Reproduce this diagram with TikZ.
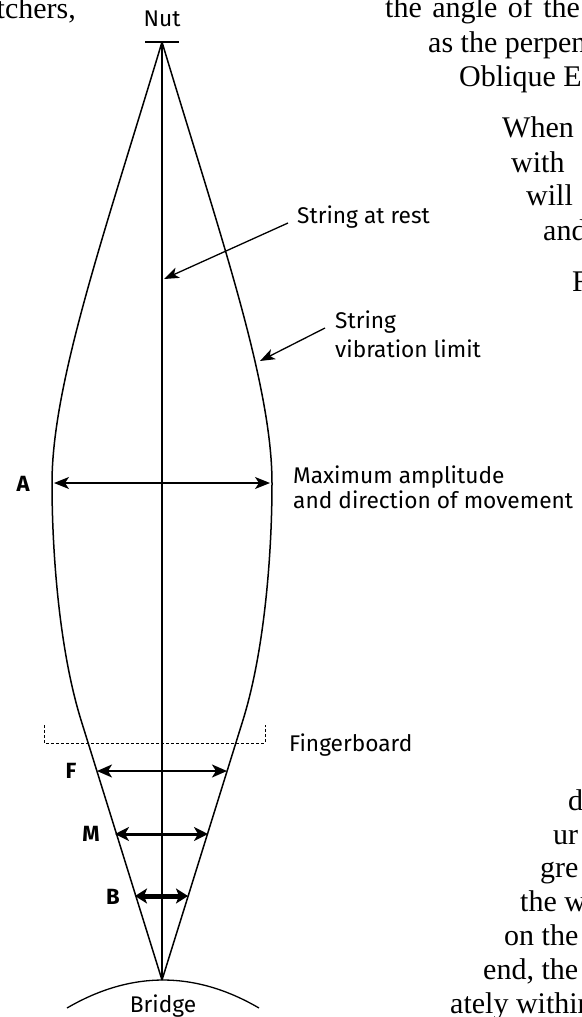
\documentclass[tikz,border=0pt]{standalone}
\usepackage{fontspec}
\setmainfont{Fira Sans}
\newfontfamily\bookfont{Liberation Serif}
\usetikzlibrary{arrows.meta}
\begin{document}
\begin{tikzpicture}[x=1pt,y=-1pt,
  lbl/.style={inner sep=0pt, font=\fontsize{22.7}{27}\selectfont, anchor=base west},
  ctr/.style={inner sep=0pt, font=\fontsize{22.7}{27}\selectfont, anchor=base},
  letter/.style={inner sep=0pt, font=\bfseries\fontsize{22}{26}\selectfont},
  bk/.style={inner sep=0pt, font=\bookfont\fontsize{30}{34}\selectfont, anchor=base west},
  limit/.style={line width=1.5pt},
  rest/.style={line width=1.3pt},
  ptr/.style={line width=1.3pt, -{Stealth[length=15pt,width=11pt,inset=4pt]}},
  ampA/.style={line width=1.3pt, {Stealth[length=15pt,width=12pt,inset=4pt]}-{Stealth[length=15pt,width=12pt,inset=4pt]}},
  ampF/.style={line width=2pt, {Stealth[length=15pt,width=13pt,inset=4pt]}-{Stealth[length=15pt,width=13pt,inset=4pt]}},
  ampM/.style={line width=3pt, {Stealth[length=14pt,width=14pt,inset=4pt]}-{Stealth[length=14pt,width=14pt,inset=4pt]}},
  ampB/.style={line width=5pt, {Stealth[length=12pt,width=15pt,inset=3pt]}-{Stealth[length=12pt,width=15pt,inset=3pt]}},
  board/.style={line width=1pt, dash pattern=on 3pt off 2pt}
]
\useasboundingbox (0,0) rectangle (581,1017);
\fill[white] (0,0) rectangle (581,1017);
\begin{scope}
\clip (0,0) rectangle (581,1017);
% background book text (page text flowing round the figure)
\node[bk, anchor=base east] (t0) at (76,18) {tchers,};
\node[bk] (t1) at (385,17) {the\hspace{3pt} angle\hspace{3pt} of\hspace{3pt} the};
\node[bk] (t2) at (428,52) {as the perpendicular};
\node[bk] (t3) at (459,86) {Oblique E};
\node[bk] (t4) at (502,137) {When};
\node[bk] (t5) at (511,172) {with};
\node[bk] (t6) at (526,205) {will};
\node[bk] (t7) at (543,240) {and};
\node[bk] (t8) at (572,291) {For};
\node[bk] (t9) at (568,810) {di};
\node[bk] (t10) at (553,844) {ur};
\node[bk] (t11) at (540,877) {gre};
\node[bk] (t12) at (520,911) {the w};
\node[bk] (t13) at (504,945) {on the};
\node[bk] (t14) at (483,979) {end, the};
\node[bk] (t15) at (450,1013) {ately within};
\end{scope}

% coordinates
\coordinate (nutL) at (145,42);
\coordinate (nutR) at (179,42);
\coordinate (nut) at (162,42);
\coordinate (br) at (162,980);
\coordinate (brL) at (67,1008);
\coordinate (brR) at (259,1008);

% nut and bridge
\draw[limit] (nutL) -- (nutR);
\draw[line width=1.3pt] (brL) .. controls (131,970.7) and (195,970.7) .. (brR);
% string at rest
\draw[rest] (nut) -- (br);
% vibration limits
\draw[limit] (nut) .. controls (219,232) and (272,383) .. (272,483)
   .. controls (272,553) and (264.7,650) .. (243,720) -- (br);
\draw[limit] (nut) .. controls (105,232) and (52,383) .. (52,483)
   .. controls (52,553) and (59.3,650) .. (81,720) -- (br);

% labels
\node[ctr] (nutlbl) at (162,26) {Nut};
\node[ctr] (brlbl) at (163,1012) {Bridge};
\node[lbl] (rest) at (297,223) {String at rest};
\node[lbl] (lim1) at (335,328) {String};
\node[lbl] (lim2) at (335,357) {vibration limit};
\node[lbl] (max1) at (293,483) {Maximum amplitude};
\node[lbl] (max2) at (293,508) {and direction of movement};
\node[lbl] (fb) at (289,751) {Fingerboard};
\node[letter] (A) at (23,484) {A};
\node[letter] (F) at (71,771) {F};
\node[letter] (M) at (91,834) {M};
\node[letter] (B) at (113,897) {B};

% pointers
\coordinate (restS) at (288,223);
\coordinate (restT) at (164,279);
\coordinate (limS) at (325,328);
\coordinate (limT) at (260,361);
\draw[ptr] (restS) -- (restT);
\draw[ptr] (limS) -- (limT);

% amplitude arrows
\coordinate (aL) at (54,483); \coordinate (aR) at (270,483);
\coordinate (fL) at (97,771); \coordinate (fR) at (227,771);
\coordinate (mL) at (115,834); \coordinate (mR) at (208,834);
\coordinate (bL) at (135,896); \coordinate (bR) at (188,896);
\draw[ampA] (aL) -- (aR);
\draw[ampF] (fL) -- (fR);
\draw[ampM] (mL) -- (mR);
\draw[ampB] (bL) -- (bR);

% fingerboard
\coordinate (fb1) at (44,725); \coordinate (fb2) at (44,743);
\coordinate (fb3) at (265,743); \coordinate (fb4) at (265,725);
\draw[board] (fb1) -- (fb2) -- (fb3) -- (fb4);
\end{tikzpicture}
\end{document}
